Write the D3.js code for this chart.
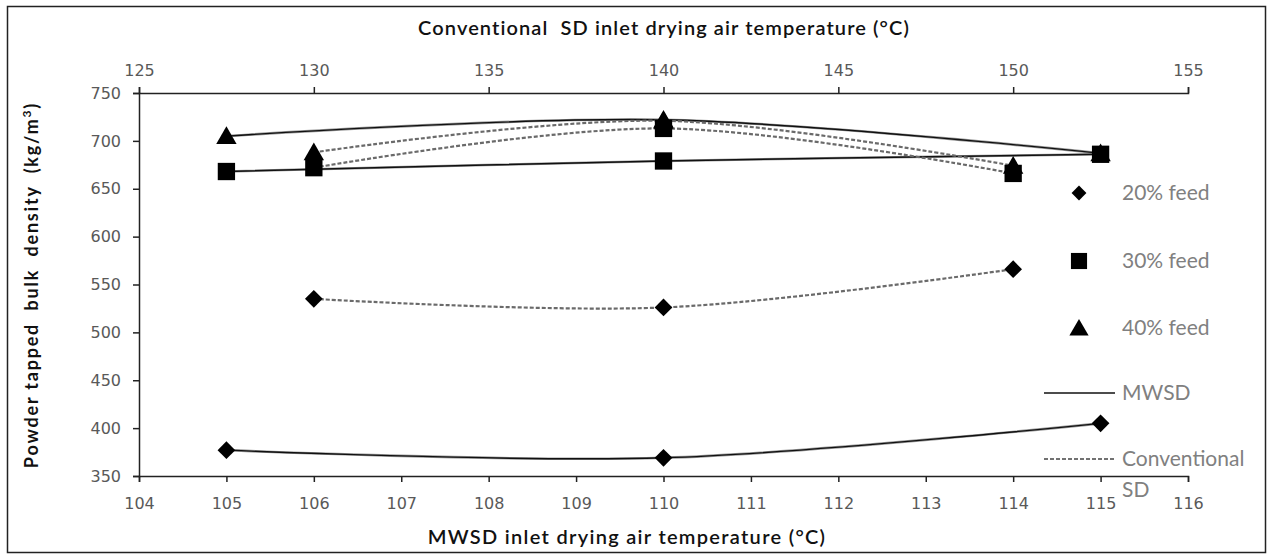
<!DOCTYPE html>
<html>
<head>
<meta charset="utf-8">
<script src="https://cdn.jsdelivr.net/npm/d3@7"></script>
<style>
  html, body { margin: 0; padding: 0; background: #fff; }
  svg text { font-family: Lato, "Open Sans", "Liberation Sans", sans-serif; white-space: pre; }
</style>
</head>
<body>
<svg id="chart" width="1273" height="560"></svg>
<script>
// Inlet temperatures for each dryer
const mwsdTemps = [105, 110, 115];
const convTemps = [130, 140, 150];

// Tapped bulk density (kg/m3) per feed concentration
const mwsd20 = [377, 369, 405];
const mwsd30 = [668, 679, 686];
const mwsd40 = [705, 722, 687];
const conv20 = [535, 526, 566];
const conv30 = [672, 713, 666];
const conv40 = [688, 721, 674];

const feedLabels = ["20% feed", "30% feed", "40% feed"];
const feedShapes = [d3.symbolDiamond2, d3.symbolSquare, d3.symbolTriangle];
const lineLabels = ["MWSD", "Conventional", "SD"];

const bottomTicks = d3.range(104, 117, 1);
const topTicks = d3.range(125, 156, 5);
const yTicks = d3.range(350, 751, 50);

const svg = d3.select("#chart");
const plot = { left: 139, right: 1188, top: 93, bottom: 476 };

// outer frame
svg.append("rect")
  .attr("x", 7.5).attr("y", 6.5)
  .attr("width", 1258).attr("height", 546)
  .attr("fill", "#fff").attr("stroke", "#222").attr("stroke-width", 1.5);

const xBottom = d3.scaleLinear().domain([104, 116]).range([plot.left, plot.right]);
const xTop = d3.scaleLinear().domain([125, 155]).range([plot.left, plot.right]);
const y = d3.scaleLinear().domain([350, 750]).range([plot.bottom, plot.top]);

const tickColor = "#595959";

function styleAxis(g) {
  g.selectAll("path.domain").attr("stroke", "#222").attr("stroke-width", 1.5);
  g.selectAll(".tick line").attr("stroke", "#222").attr("stroke-width", 1.5);
  g.selectAll(".tick text")
    .attr("fill", tickColor)
    .style("font-family", "'DejaVu Sans', sans-serif")
    .style("font-size", "16px");
}

svg.append("g")
  .attr("transform", `translate(0,${plot.bottom})`)
  .call(d3.axisBottom(xBottom).tickValues(bottomTicks).tickSize(6).tickSizeOuter(6).tickPadding(16))
  .call(styleAxis);

svg.append("g")
  .attr("transform", `translate(0,${plot.top})`)
  .call(d3.axisTop(xTop).tickValues(topTicks).tickSize(6).tickSizeOuter(6).tickPadding(11))
  .call(styleAxis);

svg.append("g")
  .attr("transform", `translate(${plot.left},0)`)
  .call(d3.axisLeft(y).tickValues(yTicks).tickSize(6).tickSizeOuter(6).tickPadding(12))
  .call(styleAxis);

// axis titles
svg.append("text")
  .attr("x", 664).attr("y", 35)
  .attr("text-anchor", "middle")
  .attr("fill", "#111")
  .style("font-size", "20px")
  .style("font-weight", "600")
  .style("letter-spacing", "1.1px")
  .text("Conventional  SD inlet drying air temperature (\u00B0C)");

svg.append("text")
  .attr("x", 627).attr("y", 544)
  .attr("text-anchor", "middle")
  .attr("fill", "#111")
  .style("font-size", "20px")
  .style("font-weight", "600")
  .style("letter-spacing", "1.3px")
  .text("MWSD inlet drying air temperature (\u00B0C)");

const yTitle = svg.append("text")
  .attr("transform", "translate(38,285) rotate(-90)")
  .attr("text-anchor", "middle")
  .attr("fill", "#111")
  .style("font-size", "18px")
  .style("font-weight", "700")
  .style("letter-spacing", "1.8px");
yTitle.append("tspan").text("Powder tapped  bulk  density  (kg/m");
yTitle.append("tspan").attr("dy", -7).style("font-size", "12px").text("3");
yTitle.append("tspan").attr("dy", 7).text(")");

// series
const curve = d3.curveCardinal.tension(0);
const series = [
  { xs: mwsdTemps, vals: mwsd20, x: xBottom, shape: 0, dashed: false },
  { xs: mwsdTemps, vals: mwsd40, x: xBottom, shape: 2, dashed: false },
  { xs: mwsdTemps, vals: mwsd30, x: xBottom, shape: 1, dashed: false },
  { xs: convTemps, vals: conv20, x: xTop, shape: 0, dashed: true },
  { xs: convTemps, vals: conv30, x: xTop, shape: 1, dashed: true },
  { xs: convTemps, vals: conv40, x: xTop, shape: 2, dashed: true }
];

const lineG = svg.append("g");
series.forEach(s => {
  const pts = s.xs.map((t, i) => [s.x(t), y(s.vals[i])]);
  const gen = d3.line().curve(curve);
  if (!s.dashed) {
    lineG.append("path").attr("d", gen(pts))
      .attr("fill", "none").attr("stroke", "#9a9a9a").attr("stroke-width", 2.6);
    lineG.append("path").attr("d", gen(pts))
      .attr("fill", "none").attr("stroke", "#111").attr("stroke-width", 1.4);
  } else {
    lineG.append("path").attr("d", gen(pts))
      .attr("fill", "none").attr("stroke", "#6a6a6a").attr("stroke-width", 2.2)
      .attr("stroke-dasharray", "4,2");
  }
});

const symbolSizes = [200, 300, 180];
const markG = svg.append("g");
series.forEach(s => {
  s.xs.forEach((t, i) => {
    markG.append("path")
      .attr("d", d3.symbol().type(feedShapes[s.shape]).size(symbolSizes[s.shape])())
      .attr("transform", `translate(${s.x(t)},${y(s.vals[i]) + (s.shape === 2 ? 2 : 0)})`)
      .attr("fill", "#000");
  });
});

// legend
const legend = svg.append("g");
const legendRows = [193, 261, 328];
const legendSizes = [140, 260, 160];
feedLabels.forEach((lab, i) => {
  legend.append("path")
    .attr("d", d3.symbol().type(feedShapes[i]).size(legendSizes[i])())
    .attr("transform", `translate(1079,${legendRows[i] + (i === 2 ? 2 : 0)})`)
    .attr("fill", "#000");
  legend.append("text")
    .attr("x", 1122).attr("y", legendRows[i] + 7)
    .attr("fill", "#808080")
    .style("font-size", "21px")
    .text(lab);
});

legend.append("line")
  .attr("x1", 1044).attr("x2", 1115).attr("y1", 393).attr("y2", 393)
  .attr("stroke", "#111").attr("stroke-width", 1.5);
legend.append("text")
  .attr("x", 1122).attr("y", 400)
  .attr("fill", "#808080").style("font-size", "21px")
  .text(lineLabels[0]);

legend.append("line")
  .attr("x1", 1044).attr("x2", 1115).attr("y1", 459).attr("y2", 459)
  .attr("stroke", "#444").attr("stroke-width", 1.5)
  .attr("stroke-dasharray", "4,2");
legend.append("text")
  .attr("x", 1122).attr("y", 466)
  .attr("fill", "#808080").style("font-size", "21px")
  .text(lineLabels[1]);
legend.append("text")
  .attr("x", 1122).attr("y", 497)
  .attr("fill", "#808080").style("font-size", "21px")
  .text(lineLabels[2]);
</script>
</body>
</html>
